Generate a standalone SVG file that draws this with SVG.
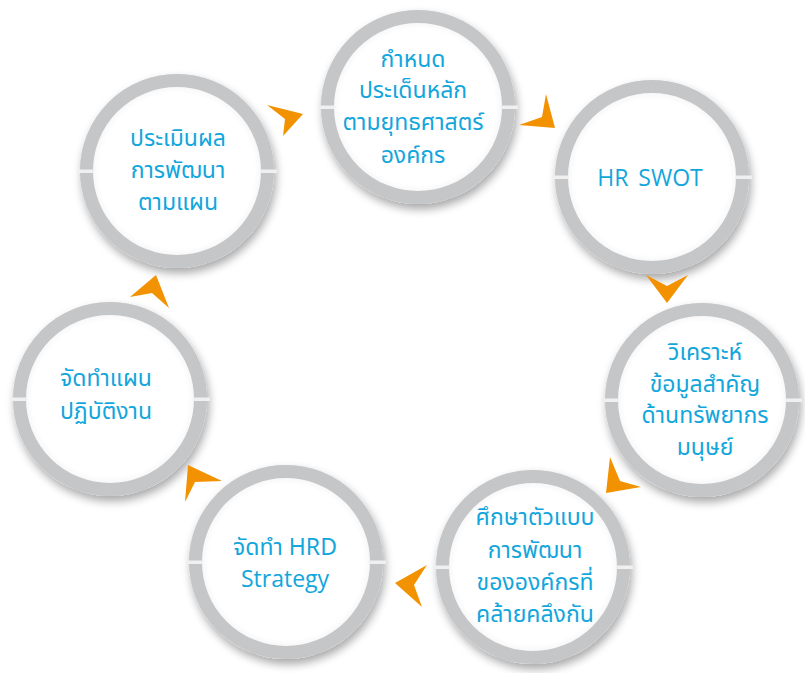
<svg xmlns="http://www.w3.org/2000/svg" width="805" height="673" viewBox="0 0 805 673">
  <defs>
    <filter id="sh" x="-30%" y="-30%" width="160%" height="160%">
      <feGaussianBlur in="SourceAlpha" stdDeviation="5"/>
      <feOffset dx="2" dy="5" result="b"/>
      <feComponentTransfer><feFuncA type="linear" slope="0.35"/></feComponentTransfer>
      <feMerge><feMergeNode/><feMergeNode in="SourceGraphic"/></feMerge>
    </filter>
    <radialGradient id="inner" cx="0.5" cy="0.5" r="0.5">
      <stop offset="0" stop-color="#ffffff"/>
      <stop offset="0.8" stop-color="#ffffff"/>
      <stop offset="0.93" stop-color="#f1f1f1"/>
      <stop offset="1" stop-color="#dcdcdc"/>
    </radialGradient>
  </defs>
  <style>
    .bg { fill: url(#inner); filter: url(#sh); }
    .ring { fill: none; stroke: #c5c6c8; stroke-width: 13; }
    .gap { fill: #f0f0f0; }
    .t { font-family: "Noto Sans Thai", "Noto Sans", "Open Sans", "DejaVu Sans", sans-serif; font-size: 23px; fill: #12a6dc; text-anchor: middle; }
    .e { font-family: "Open Sans", "Noto Sans", sans-serif; font-size: 23px; fill: #12a6dc; text-anchor: middle; }
    .arr { fill: #f39200; }
  </style>
  <rect width="805" height="673" fill="#ffffff"/>

  <g id="node-plan-key-issues">
    <circle class="bg" cx="418" cy="107" r="97"/>
    <circle class="ring" cx="418" cy="107" r="90.5"/>
    <rect class="gap" x="318" y="105.5" width="17" height="3.5"/>
    <rect class="gap" x="501" y="105.5" width="17" height="3.5"/>
    <text class="t" x="413" y="67">กำหนด</text>
    <text class="t" x="413" y="98">ประเด็นหลัก</text>
    <text class="t" x="413" y="130">ตามยุทธศาสตร์</text>
    <text class="t" x="413" y="163">องค์กร</text>
  </g>

  <g id="node-hr-swot">
    <circle class="bg" cx="652" cy="177" r="97"/>
    <circle class="ring" cx="652" cy="177" r="90.5"/>
    <rect class="gap" x="552" y="175.5" width="17" height="3.5"/>
    <rect class="gap" x="735" y="175.5" width="17" height="3.5"/>
    <text class="e" x="650" y="186" word-spacing="4">HR SWOT</text>
  </g>

  <g id="node-analyze-hr-data">
    <circle class="bg" cx="702" cy="400" r="97"/>
    <circle class="ring" cx="702" cy="400" r="90.5"/>
    <rect class="gap" x="602" y="398.5" width="17" height="3.5"/>
    <rect class="gap" x="785" y="398.5" width="17" height="3.5"/>
    <text class="t" x="705" y="360">วิเคราะห์</text>
    <text class="t" x="705" y="392">ข้อมูลสำคัญ</text>
    <text class="t" x="705" y="423">ด้านทรัพยากร</text>
    <text class="t" x="705" y="455">มนุษย์</text>
  </g>

  <g id="node-study-models">
    <circle class="bg" cx="533" cy="567" r="97"/>
    <circle class="ring" cx="533" cy="567" r="90.5"/>
    <rect class="gap" x="433" y="565.5" width="17" height="3.5"/>
    <rect class="gap" x="616" y="565.5" width="17" height="3.5"/>
    <text class="t" x="535" y="525">ศึกษาตัวแบบ</text>
    <text class="t" x="535" y="558">การพัฒนา</text>
    <text class="t" x="535" y="590">ขององค์กรที่</text>
    <text class="t" x="535" y="622">คล้ายคลึงกัน</text>
  </g>

  <g id="node-hrd-strategy">
    <circle class="bg" cx="286" cy="562" r="97"/>
    <circle class="ring" cx="286" cy="562" r="90.5"/>
    <rect class="gap" x="186" y="560.5" width="17" height="3.5"/>
    <rect class="gap" x="369" y="560.5" width="17" height="3.5"/>
    <text class="t" x="285" y="555">จัดทำ HRD</text>
    <text class="e" x="285" y="587">Strategy</text>
  </g>

  <g id="node-action-plan">
    <circle class="bg" cx="110" cy="399" r="97"/>
    <circle class="ring" cx="110" cy="399" r="90.5"/>
    <rect class="gap" x="10" y="397.5" width="17" height="3.5"/>
    <rect class="gap" x="193" y="397.5" width="17" height="3.5"/>
    <text class="t" x="106" y="386">จัดทำแผน</text>
    <text class="t" x="106" y="419">ปฏิบัติงาน</text>
  </g>

  <g id="node-evaluate">
    <circle class="bg" cx="177" cy="171" r="97"/>
    <circle class="ring" cx="177" cy="171" r="90.5"/>
    <rect class="gap" x="77" y="169.5" width="17" height="3.5"/>
    <rect class="gap" x="260" y="169.5" width="17" height="3.5"/>
    <text class="t" x="178" y="146">ประเมินผล</text>
    <text class="t" x="178" y="178">การพัฒนา</text>
    <text class="t" x="178" y="210">ตามแผน</text>
  </g>

  <g id="connectors">
    <polygon class="arr" points="267,105 303,114 283,136 285,119"/>
    <polygon class="arr" points="546,94 555,128 519,125 542,117"/>
    <polygon class="arr" points="646,275 667,286 688,275 667,303"/>
    <polygon class="arr" points="610,457 620,481 641,487 606,493"/>
    <polygon class="arr" points="427,565 414,585 422,607 395,583"/>
    <polygon class="arr" points="188,465 222,481 195,482 185,502"/>
    <polygon class="arr" points="156,275 169,308 152,293 130,297"/>
  </g>
</svg>
